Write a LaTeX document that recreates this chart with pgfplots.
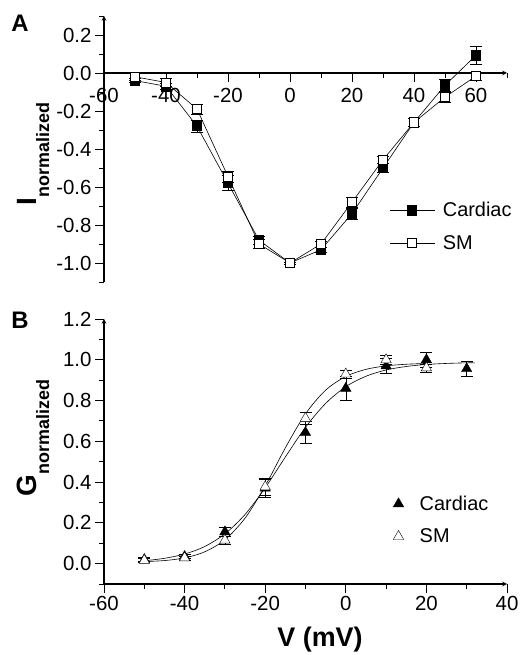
\documentclass[border=0pt]{standalone}
\usepackage{fontspec}
\setmainfont{Liberation Sans}
\usepackage{pgfplots}
\pgfplotsset{compat=1.18}

\pgfplotsset{
  panel/.style={
    scale only axis, width=403bp, anchor=south west,
    axis line style={-, line width=1.1bp},
    tick style={black, line width=0.9bp},
    major tick length=9bp, minor tick length=5bp,
    tick label style={font=\fontsize{20.5}{22}\selectfont},
    /pgf/number format/assume math mode=true,
    hide obscured x ticks=false, hide obscured y ticks=false,
    clip=false,
    legend cell align=left,
  },
  errs/.style={error bars/.cd, y dir=both, y explicit,
    error bar style={line width=0.6bp, solid},
    error mark options={rotate=90, mark size=6bp, line width=0.6bp}},
}

\begin{document}
\begin{tikzpicture}
\useasboundingbox (0,0) rectangle (520bp,655bp);

% ---------- panel A : I-V ----------
\begin{axis}[panel, at={(104bp,373bp)}, height=266bp,
  xmin=-60, xmax=70, ymin=-1.1, ymax=0.3,
  axis x line=middle, axis y line=left, tick align=outside,
  xtick={-60,-40,-20,0,20,40,60}, minor xtick={-50,-30,-10,10,30,50,70},
  xticklabel=\empty,
  ytick={-1,-0.8,-0.6,-0.4,-0.2,0,0.2},
  minor ytick={-1.1,-0.9,-0.7,-0.5,-0.3,-0.1,0.1,0.3},
  yticklabel style={/pgf/number format/.cd, fixed, fixed zerofill, precision=1},
  legend style={draw=none, fill=none, row sep=13bp, column sep=6bp,
    font=\fontsize{20}{22}\selectfont,
    at={(0.70,0.209)}, anchor=west},
  legend image code/.code={
    \draw[mark repeat=2, mark phase=2, #1] plot coordinates {(0bp,0bp) (22bp,0bp) (45bp,0bp)};},
]
% x tick labels below the zero line
\pgfplotsinvokeforeach{-60,-40,-20,0,20,40,60}{
  \node[anchor=north, inner sep=0pt, yshift=-15bp, font=\fontsize{20.5}{22}\selectfont]
    at (axis cs:#1,0) {#1};
}
\addplot[black, line width=0.6bp, mark=square*, mark size=4.6bp,
  mark options={solid, fill=black}, errs] coordinates {
(-50,-0.04) +- (0,0.01)
(-40,-0.07) +- (0,0.015)
(-30,-0.28) +- (0,0.03)
(-20,-0.58) +- (0,0.04)
(-10,-0.88) +- (0,0.02)
(0,-1.0) +- (0,0.005)
(10,-0.93) +- (0,0.015)
(20,-0.74) +- (0,0.03)
(30,-0.50) +- (0,0.025)
(40,-0.26) +- (0,0.02)
(50,-0.065) +- (0,0.03)
(60,0.093) +- (0,0.045)
};
\addlegendentry{Cardiac}
\addplot[black, line width=0.6bp, mark=square*, mark size=4.6bp,
  mark options={solid, fill=white}, errs] coordinates {
(-50,-0.02) +- (0,0.02)
(-40,-0.05) +- (0,0.02)
(-30,-0.19) +- (0,0.025)
(-20,-0.545) +- (0,0.03)
(-10,-0.90) +- (0,0.025)
(0,-1.0) +- (0,0.005)
(10,-0.90) +- (0,0.015)
(20,-0.68) +- (0,0.025)
(30,-0.457) +- (0,0.02)
(40,-0.26) +- (0,0.02)
(50,-0.127) +- (0,0.025)
(60,-0.016) +- (0,0.02)
};
\addlegendentry{SM}
\end{axis}

% ---------- panel B : G-V ----------
\begin{axis}[panel, at={(104bp,71bp)}, height=265bp,
  xmin=-60, xmax=40, ymin=-0.1, ymax=1.2,
  axis lines=left, tick align=outside,
  xtick={-60,-40,-20,0,20,40}, minor xtick={-50,-30,-10,10,30},
  ytick={0,0.2,0.4,0.6,0.8,1.0,1.2},
  minor ytick={-0.1,0.1,0.3,0.5,0.7,0.9,1.1},
  yticklabel style={/pgf/number format/.cd, fixed, fixed zerofill, precision=1},
  legend style={draw=none, fill=none, row sep=13bp, column sep=14bp,
    font=\fontsize{20}{22}\selectfont,
    at={(0.71,0.2415)}, anchor=west},
  legend image code/.code={
    \draw[mark repeat=2, mark phase=2, #1] plot coordinates {(0bp,0bp) (12bp,0bp) (24bp,0bp)};},
]
% Boltzmann fit curves
\addplot[black, line width=0.6bp, smooth, forget plot] coordinates {
(-50,0.014) (-45,0.026) (-40,0.047) (-35,0.084) (-30,0.146) (-25,0.241)
(-20,0.372) (-15,0.523) (-10,0.669) (-5,0.786) (0,0.868) (5,0.919)
(10,0.950) (15,0.967) (20,0.977) (25,0.982) (30,0.985) (32,0.985)
};
\addplot[black, line width=0.6bp, smooth, forget plot] coordinates {
(-50,0.010) (-45,0.015) (-40,0.028) (-35,0.058) (-30,0.117) (-25,0.223)
(-20,0.381) (-15,0.568) (-10,0.735) (-5,0.851) (0,0.918) (5,0.953)
(10,0.970) (15,0.978) (20,0.982)
};
\addplot[black, only marks, mark=triangle*, mark size=6bp,
  mark options={solid, fill=black}, errs] coordinates {
(-50,0.02) +- (0,0.01)
(-40,0.035) +- (0,0.01)
(-30,0.156) +- (0,0.02)
(-20,0.37) +- (0,0.045)
(-10,0.643) +- (0,0.055)
(0,0.86) +- (0,0.06)
(10,0.97) +- (0,0.035)
(20,1.0) +- (0,0.035)
(30,0.956) +- (0,0.035)
};
\addlegendentry{Cardiac}
\addplot[black, only marks, mark=triangle*, mark size=6bp,
  mark options={solid, fill=white}, errs] coordinates {
(-50,0.016) +- (0,0.01)
(-40,0.028) +- (0,0.01)
(-30,0.115) +- (0,0.02)
(-20,0.377) +- (0,0.04)
(-10,0.713) +- (0,0.028)
(0,0.93) +- (0,0.02)
(10,1.0) +- (0,0.02)
(20,0.96) +- (0,0.02)
};
\addlegendentry{SM}
\end{axis}

% labels
\node[font=\fontsize{24}{26}\bfseries\selectfont] at (20bp,632bp) {A};
\node[font=\fontsize{24}{26}\bfseries\selectfont] at (20bp,335bp) {B};
\node[rotate=90, anchor=center] at (33bp,501bp)
  {{\fontsize{28}{30}\bfseries\selectfont I}{\fontsize{18}{20}\bfseries\selectfont\raisebox{-13bp}{normalized}}};
\node[rotate=90, anchor=center] at (33bp,217bp)
  {{\fontsize{28}{30}\bfseries\selectfont G}{\fontsize{18}{20}\bfseries\selectfont\raisebox{-13bp}{normalized}}};
\node[font=\fontsize{27}{30}\bfseries\selectfont] at (320bp,15bp) {V (mV)};
\end{tikzpicture}
\end{document}
